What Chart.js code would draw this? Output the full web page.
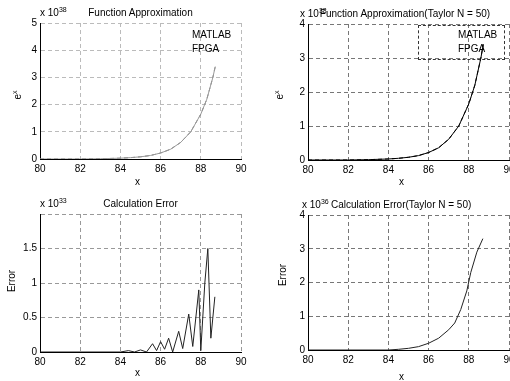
<!DOCTYPE html>
<html>
<head>
<meta charset="UTF-8">
<title>Function Approximation</title>
<script src="https://cdn.jsdelivr.net/npm/chart.js"></script>
<style>
  html, body { margin: 0; padding: 0; background: #fff; overflow: hidden; width: 510px; height: 381px; }
  body { position: relative; font-family: "Liberation Sans", Arial, sans-serif; font-size: 10px; color: #000; }
  canvas { position: absolute; }
  .t { position: absolute; white-space: nowrap; line-height: 10px; }
  .t sup { font-size: 7px; vertical-align: 4px; line-height: 0; }
  .c { text-align: center; }
  .rot { transform: translate(-50%, -50%) rotate(-90deg); }
  .box { position: absolute; border: 1px dashed #333; }
</style>
</head>
<body>
  <canvas id="tl" width="255" height="190" style="left:0;top:0"></canvas>
  <canvas id="tr" width="255" height="190" style="left:268px;top:0"></canvas>
  <canvas id="bl" width="255" height="190" style="left:0;top:190px"></canvas>
  <canvas id="br" width="255" height="190" style="left:268px;top:190px"></canvas>

  <!-- titles and exponents -->
  <div class="t" style="left:40px;top:8px">x 10<sup>38</sup></div>
  <div class="t c" style="left:40px;width:201px;top:8px">Function Approximation</div>
  <div class="t" style="left:300px;top:9px">x 10<sup>38</sup></div>
  <div class="t c" style="left:316px;width:178px;top:9px">Function Approximation(Taylor N = 50)</div>
  <div class="t" style="left:40px;top:199px">x 10<sup>33</sup></div>
  <div class="t c" style="left:40px;width:201px;top:199px">Calculation Error</div>
  <div class="t" style="left:302px;top:200px">x 10<sup>36</sup></div>
  <div class="t" style="left:331px;top:200px">Calculation Error(Taylor N = 50)</div>

  <!-- axis labels -->
  <div class="t rot" style="left:18px;top:95px">e<sup>x</sup></div>
  <div class="t rot" style="left:280px;top:95px">e<sup>x</sup></div>
  <div class="t rot" style="left:12px;top:281px">Error</div>
  <div class="t rot" style="left:283px;top:275px">Error</div>
  <div class="t" style="left:135px;top:177px">x</div>
  <div class="t" style="left:399px;top:177px">x</div>
  <div class="t" style="left:135px;top:368px">x</div>
  <div class="t" style="left:399px;top:372px">x</div>

  <!-- legends -->
  <div class="t" style="left:192px;top:30px">MATLAB</div>
  <div class="t" style="left:192px;top:44px">FPGA</div>
  <div class="box" style="left:418px;top:25px;width:85px;height:33px"></div>
  <div class="t" style="left:458px;top:30px">MATLAB</div>
  <div class="t" style="left:458px;top:44px">FPGA</div>

<script>
  // e^x curve (x 10^38)
  const approxX = [80, 81, 82, 83, 84, 84.5, 85, 85.5, 86, 86.5, 87, 87.5, 88, 88.3, 88.6, 88.72];
  const matlabY = [0, 0, 0, 0.01, 0.03, 0.05, 0.08, 0.13, 0.22, 0.36, 0.61, 1.0, 1.65, 2.2, 3.0, 3.4];
  const fpgaY   = [0, 0, 0, 0.01, 0.03, 0.05, 0.08, 0.13, 0.22, 0.36, 0.61, 1.0, 1.65, 2.2, 3.0, 3.4];

  // calculation error (x 10^33)
  const errX = [80, 84, 84.4, 84.7, 85, 85.3, 85.6, 85.8, 86.0, 86.2, 86.4, 86.6, 86.9, 87.1, 87.4, 87.6, 87.9, 88.0, 88.2, 88.35, 88.5, 88.7];
  const errY = [0, 0, 0.02, 0, 0.03, 0, 0.12, 0.02, 0.15, 0.04, 0.2, 0, 0.3, 0.05, 0.55, 0.08, 0.9, 0.02, 1.0, 1.5, 0.2, 0.8];

  // calculation error, Taylor N = 50 (x 10^36)
  const taylorErrX = [80, 84, 84.5, 85, 85.5, 86, 86.5, 87, 87.3, 87.6, 87.9, 88.1, 88.4, 88.7];
  const taylorErrY = [0, 0, 0.02, 0.05, 0.1, 0.2, 0.35, 0.6, 0.8, 1.2, 1.75, 2.3, 2.9, 3.3];

  const xTicks = [80, 82, 84, 86, 88, 90];

  function pts(xs, ys) {
    return xs.map((x, i) => ({ x: x, y: ys[i] }));
  }

  function plot(id, datasets, yMax, yStep, padTop, xHeight, hideTop, gridColor) {
    const font = { family: '"Liberation Sans", Arial, sans-serif', size: 10 };
    new Chart(document.getElementById(id), {
      type: 'line',
      data: { datasets: datasets },
      options: {
        responsive: false,
        animation: false,
        layout: { padding: { left: 0, top: padTop, right: 14, bottom: 0 } },
        plugins: { legend: { display: false }, tooltip: { enabled: false } },
        elements: { point: { radius: 0 }, line: { tension: 0 } },
        scales: {
          x: {
            type: 'linear', min: 80, max: 90,
            afterBuildTicks: s => { s.ticks = xTicks.map(v => ({ value: v })); },
            afterFit: s => { s.height = xHeight; },
            ticks: { color: '#000', font: font, padding: 4, maxRotation: 0 },
            grid: { color: gridColor, lineWidth: 1, drawTicks: false },
            border: { display: true, color: '#000', width: 1, dash: [4, 3] }
          },
          y: {
            min: 0, max: yMax,
            afterFit: s => { s.width = 40; },
            ticks: {
              stepSize: yStep, color: '#000', font: font, padding: 3,
              callback: v => (hideTop && v === yMax) ? '' : v
            },
            grid: { color: gridColor, lineWidth: 1, drawTicks: false },
            border: { display: true, color: '#000', width: 1, dash: [4, 3] }
          }
        }
      }
    });
  }

  plot('tl', [
    { label: 'MATLAB', data: pts(approxX, matlabY), borderColor: '#999', borderWidth: 1 },
    { label: 'FPGA', data: pts(approxX, fpgaY), borderColor: '#777', borderWidth: 1, borderDash: [4, 3] }
  ], 5, 1, 23, 31, false, '#bbb');

  plot('tr', [
    { label: 'MATLAB', data: pts(approxX, matlabY), borderColor: '#000', borderWidth: 1 },
    { label: 'FPGA', data: pts(approxX, fpgaY), borderColor: '#000', borderWidth: 1, borderDash: [4, 3] }
  ], 4, 1, 24, 30, false, '#777');

  plot('bl', [
    { label: 'Error', data: pts(errX, errY), borderColor: '#222', borderWidth: 1 }
  ], 2, 0.5, 24, 28, true, '#999');

  plot('br', [
    { label: 'Error', data: pts(taylorErrX, taylorErrY), borderColor: '#222', borderWidth: 1 }
  ], 4, 1, 25, 30, false, '#777');
</script>
</body>
</html>
